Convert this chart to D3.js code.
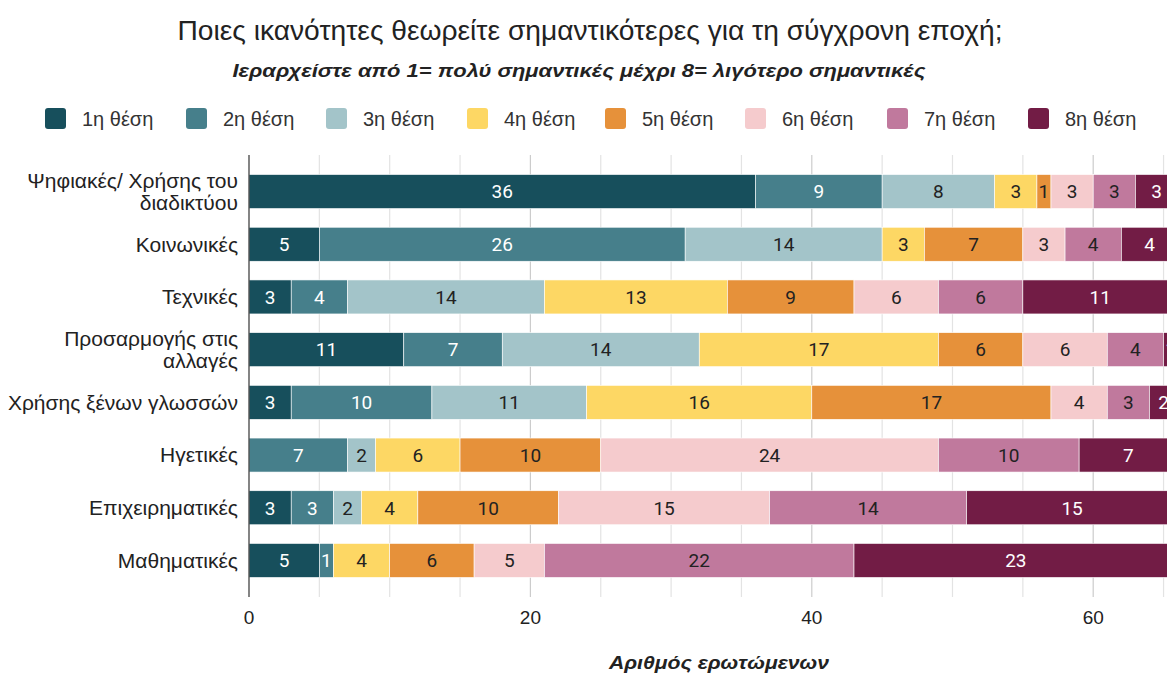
<!DOCTYPE html>
<html>
<head>
<meta charset="utf-8">
<script src="https://cdn.jsdelivr.net/npm/d3@7"></script>
<style>
  html, body { margin: 0; padding: 0; background: #fff; }
  svg { display: block; }
</style>
</head>
<body>
<svg id="chart" width="1167" height="673"></svg>
<script>
const categories = [
  ["Ψηφιακές/ Χρήσης του", "διαδικτύου"],
  ["Κοινωνικές"],
  ["Τεχνικές"],
  ["Προσαρμογής στις", "αλλαγές"],
  ["Χρήσης ξένων γλωσσών"],
  ["Ηγετικές"],
  ["Επιχειρηματικές"],
  ["Μαθηματικές"]
];
const seriesNames = ["1η θέση","2η θέση","3η θέση","4η θέση","5η θέση","6η θέση","7η θέση","8η θέση"];
const s1 = [36, 5, 3, 11, 3, 0, 3, 5];
const s2 = [9, 26, 4, 7, 10, 7, 3, 1];
const s3 = [8, 14, 14, 14, 11, 2, 2, 0];
const s4 = [3, 3, 13, 17, 16, 6, 4, 4];
const s5 = [1, 7, 9, 6, 17, 10, 10, 6];
const s6 = [3, 3, 6, 6, 4, 24, 15, 5];
const s7 = [3, 4, 6, 4, 3, 10, 14, 22];
const s8 = [3, 4, 11, 1, 2, 7, 15, 23];
const seriesValues = [s1, s2, s3, s4, s5, s6, s7, s8];
const colors = ["#174f5c","#467f8b","#a3c4c9","#fdd764","#e6913a","#f5cbcd","#c0799d","#721c45"];
const textColors = ["#ffffff","#ffffff","#222222","#222222","#222222","#222222","#222222","#ffffff"];
const xTickLabels = [0, 20, 40, 60];
const xGridStep = 5;

const svg = d3.select("#chart");
const sans = "'Liberation Sans', Arial, sans-serif";

// scales
const x = d3.scaleLinear().domain([0, 70]).range([249, 249 + 70 * 14.07]);
const y = d3.scaleBand().domain(d3.range(categories.length)).range([155, 597])
  .paddingInner(0.355).paddingOuter(0.371);

// gridlines
const gridVals = d3.range(0, 71, xGridStep);
svg.append("g").selectAll("line").data(gridVals.filter(d => d > 0)).join("line")
  .attr("x1", d => x(d)).attr("x2", d => x(d))
  .attr("y1", 155).attr("y2", 597)
  .attr("stroke", d => d % 20 === 0 ? "#cccccc" : "#e3e3e3")
  .attr("stroke-width", 1.2);

// stacked data
const rows = categories.map((c, i) => {
  let acc = 0;
  return seriesValues.map((s, k) => {
    const v = s[i];
    const seg = {row: i, k, v, x0: acc, x1: acc + v};
    acc += v;
    return seg;
  });
});

const segs = rows.flat().filter(d => d.v > 0);
const barG = svg.append("g");
barG.selectAll("rect").data(segs).join("rect")
  .attr("x", d => x(d.x0))
  .attr("y", d => y(d.row))
  .attr("width", d => x(d.x1) - x(d.x0))
  .attr("height", y.bandwidth())
  .attr("fill", d => colors[d.k])
  .attr("stroke", "#ffffff")
  .attr("stroke-width", 0.6);

barG.selectAll("text").data(segs).join("text")
  .attr("x", d => (x(d.x0) + x(d.x1)) / 2)
  .attr("y", d => y(d.row) + y.bandwidth() / 2)
  .attr("dy", "0.36em")
  .attr("text-anchor", "middle")
  .attr("font-family", "Roboto, sans-serif")
  .attr("font-size", 19)
  .attr("fill", d => textColors[d.k])
  .text(d => d.v);

// axis line
svg.append("line").attr("x1", x(0)).attr("x2", x(0)).attr("y1", 155).attr("y2", 597)
  .attr("stroke", "#333").attr("stroke-width", 1.2);

// x tick labels
svg.append("g").selectAll("text").data(xTickLabels).join("text")
  .attr("x", d => x(d)).attr("y", 624)
  .attr("text-anchor", "middle")
  .attr("font-family", sans)
  .attr("font-size", 19)
  .attr("fill", "#222")
  .text(d => d);

// y labels
const yl = svg.append("g");
categories.forEach((lines, i) => {
  const cy = y(i) + y.bandwidth() / 2;
  const lh = 22;
  const t = yl.append("text")
    .attr("x", 238)
    .attr("text-anchor", "end")
    .attr("font-family", sans)
    .attr("font-size", 21)
    .attr("fill", "#222");
  lines.forEach((ln, j) => {
    t.append("tspan").attr("x", 238)
      .attr("y", cy + (j - (lines.length - 1) / 2) * lh)
      .attr("dy", "0.35em")
      .text(ln);
  });
});

// title
svg.append("text").attr("x", 590).attr("y", 40).attr("text-anchor", "middle")
  .attr("font-family", sans).attr("font-size", 27).attr("fill", "#222")
  .attr("textLength", 825).attr("lengthAdjust", "spacingAndGlyphs")
  .text("Ποιες ικανότητες θεωρείτε σημαντικότερες για τη σύγχρονη εποχή;");
svg.append("text").attr("x", 579).attr("y", 77).attr("text-anchor", "middle")
  .attr("font-family", sans).attr("font-size", 19).attr("font-weight", "bold")
  .attr("font-style", "italic").attr("fill", "#222")
  .attr("textLength", 693).attr("lengthAdjust", "spacingAndGlyphs")
  .text("Ιεραρχείστε από 1= πολύ σημαντικές μέχρι 8= λιγότερο σημαντικές");

// axis title
svg.append("text").attr("x", 719).attr("y", 669).attr("text-anchor", "middle")
  .attr("font-family", sans).attr("font-size", 19).attr("font-weight", "bold")
  .attr("font-style", "italic").attr("fill", "#222")
  .attr("textLength", 220).attr("lengthAdjust", "spacingAndGlyphs")
  .text("Αριθμός ερωτώμενων");

// legend
const legX = [45, 186, 326, 467, 605, 745, 887, 1028];
const lg = svg.append("g").selectAll("g").data(seriesNames).join("g")
  .attr("transform", (d, i) => `translate(${legX[i]},108)`);
lg.append("rect").attr("width", 21).attr("height", 21).attr("rx", 3)
  .attr("fill", (d, i) => colors[i]);
lg.append("text").attr("x", 37).attr("y", 10.5).attr("dy", "0.36em")
  .attr("font-family", sans)
  .attr("font-size", 20).attr("fill", "#333")
  .text(d => d);
</script>
</body>
</html>
